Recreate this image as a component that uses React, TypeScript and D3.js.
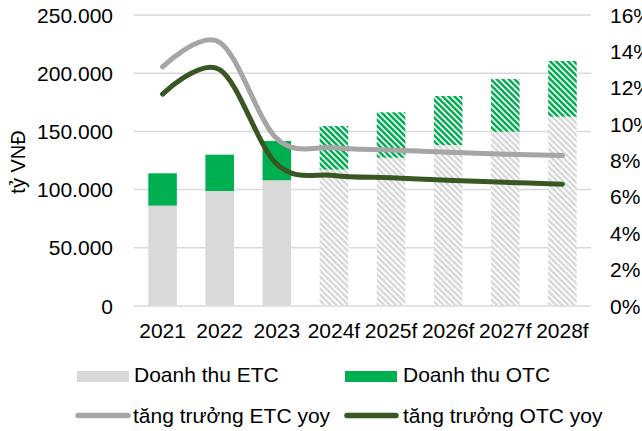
import React, { useEffect, useRef } from 'react';
import * as d3 from 'd3';

// values
const years = ['2021', '2022', '2023', '2024f', '2025f', '2026f', '2027f', '2028f'];
const etcRevenue = [86200, 98800, 108000, 117200, 127400, 138300, 149700, 162600];
const otcRevenue = [27800, 31200, 33750, 37400, 39000, 42100, 45300, 47900];
const etcGrowth = [13.15, 14.5, 9.2, 8.7, 8.58, 8.45, 8.35, 8.27];
const otcGrowth = [11.65, 13.0, 7.8, 7.18, 7.05, 6.92, 6.8, 6.7];
const leftTicks = [0, 50000, 100000, 150000, 200000, 250000];
const rightTicks = [0, 2, 4, 6, 8, 10, 12, 14, 16];

const GRAY = '#d9d9d9';
const GREEN = '#00b050';
const LINE_GRAY = '#a6a6a6';
const LINE_DARK = '#385723';
const FONT = 'Liberation Sans, Arial, sans-serif';

function App() {
  const ref = useRef<SVGSVGElement>(null);

  useEffect(() => {
    const svg = d3.select(ref.current);
    svg.selectAll('*').remove();

    const left = 134, right = 591, top = 15, bottom = 306;

    const x = d3.scaleBand<string>().domain(years).range([left, right]).paddingInner(0.5).paddingOuter(0.25);
    const y = d3.scaleLinear().domain([0, 250000]).range([bottom, top]);
    const y2 = d3.scaleLinear().domain([0, 16]).range([bottom, top]);

    const defs = svg.append('defs');
    const hatch = (id: string, color: string) => {
      const p = defs.append('pattern')
        .attr('id', id)
        .attr('patternUnits', 'userSpaceOnUse')
        .attr('width', 4.2)
        .attr('height', 6)
        .attr('patternTransform', 'rotate(-45)');
      p.append('rect').attr('width', 4.2).attr('height', 6).attr('fill', '#fff');
      p.append('rect').attr('width', 2.5).attr('height', 6).attr('fill', color);
    };
    hatch('hatch-gray', GRAY);
    hatch('hatch-green', GREEN);

    // gridlines
    svg.append('g')
      .selectAll('line')
      .data(leftTicks)
      .enter()
      .append('line')
      .attr('x1', left)
      .attr('x2', right)
      .attr('y1', d => y(d))
      .attr('y2', d => y(d))
      .attr('stroke', GRAY)
      .attr('stroke-width', 1.5);

    const forecast = (d: string) => d.endsWith('f');

    // stacked bars
    const bars = svg.append('g');
    bars.selectAll('rect.etc')
      .data(years)
      .enter()
      .append('rect')
      .attr('class', 'etc')
      .attr('x', d => x(d)!)
      .attr('width', x.bandwidth())
      .attr('y', (d, i) => y(etcRevenue[i]))
      .attr('height', (d, i) => y(0) - y(etcRevenue[i]) - 1)
      .attr('fill', d => (forecast(d) ? 'url(#hatch-gray)' : GRAY));

    bars.selectAll('rect.otc')
      .data(years)
      .enter()
      .append('rect')
      .attr('class', 'otc')
      .attr('x', d => x(d)!)
      .attr('width', x.bandwidth())
      .attr('y', (d, i) => y(etcRevenue[i] + otcRevenue[i]))
      .attr('height', (d, i) => y(etcRevenue[i]) - y(etcRevenue[i] + otcRevenue[i]))
      .attr('fill', d => (forecast(d) ? 'url(#hatch-green)' : GREEN));

    // growth lines
    const line = d3.line<number>()
      .x((d, i) => x(years[i])! + x.bandwidth() / 2)
      .y(d => y2(d))
      .curve(d3.curveCatmullRom.alpha(0));

    [[etcGrowth, LINE_GRAY], [otcGrowth, LINE_DARK]].forEach(([vals, color]) => {
      svg.append('path')
        .attr('d', line(vals as number[]))
        .attr('fill', 'none')
        .attr('stroke', color as string)
        .attr('stroke-width', 5)
        .attr('stroke-linecap', 'round');
    });

    const text = svg.append('g')
      .attr('font-family', FONT)
      .attr('font-size', 21)
      .attr('fill', '#000');

    // left axis labels
    text.selectAll('text.l')
      .data(leftTicks)
      .enter()
      .append('text')
      .attr('x', 113)
      .attr('y', d => y(d) + 7.6)
      .attr('text-anchor', 'end')
      .text(d => (d === 0 ? '0' : d3.format(',')(d).replace(/,/g, '.')));

    // right axis labels
    text.selectAll('text.r')
      .data(rightTicks)
      .enter()
      .append('text')
      .attr('x', 610)
      .attr('y', d => y2(d) + 7.6)
      .text(d => `${d}%`);

    // x labels
    text.selectAll('text.x')
      .data(years)
      .enter()
      .append('text')
      .attr('x', d => x(d)! + x.bandwidth() / 2)
      .attr('y', 338)
      .attr('text-anchor', 'middle')
      .text(d => d);

    text.append('text')
      .attr('transform', 'translate(25,162) rotate(-90)')
      .attr('font-size', 20)
      .attr('text-anchor', 'middle')
      .text('tỷ VNĐ');

    // legend
    const legend = svg.append('g').attr('font-family', FONT).attr('font-size', 21).attr('fill', '#000');
    legend.append('rect').attr('x', 77).attr('y', 371).attr('width', 52).attr('height', 11).attr('fill', GRAY);
    legend.append('text').attr('x', 134).attr('y', 382).text('Doanh thu ETC');
    legend.append('rect').attr('x', 345).attr('y', 371).attr('width', 52).attr('height', 11).attr('fill', GREEN);
    legend.append('text').attr('x', 403).attr('y', 382).text('Doanh thu OTC');

    legend.append('line').attr('x1', 78).attr('x2', 128).attr('y1', 415.5).attr('y2', 415.5)
      .attr('stroke', LINE_GRAY).attr('stroke-width', 5.5).attr('stroke-linecap', 'round');
    legend.append('text').attr('x', 133).attr('y', 423).text('tăng trưởng ETC yoy');
    legend.append('line').attr('x1', 347).attr('x2', 396).attr('y1', 415.5).attr('y2', 415.5)
      .attr('stroke', LINE_DARK).attr('stroke-width', 5.5).attr('stroke-linecap', 'round');
    legend.append('text').attr('x', 403).attr('y', 423).text('tăng trưởng OTC yoy');
  }, []);

  return (
    <svg
      ref={ref}
      width={642}
      height={431}
      style={{ position: 'absolute', left: 0, top: 0, background: '#fff' }}
    />
  );
}

export default App;
